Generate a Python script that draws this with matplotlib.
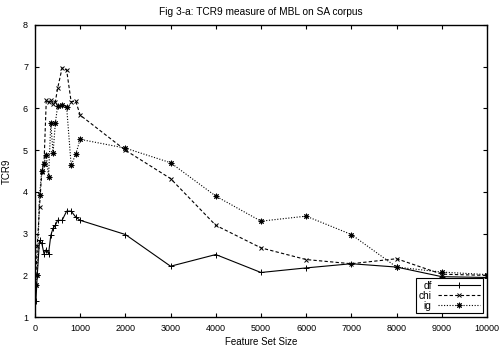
import matplotlib
matplotlib.use('Agg')
import matplotlib.pyplot as plt

plt.rcParams['font.family'] = ['Liberation Sans', 'DejaVu Sans']
plt.rcParams['font.size'] = 6.5

sizes = [20, 50, 100, 150, 200, 250, 300, 350, 400, 450, 500, 600, 700, 800, 900,
         1000, 2000, 3000, 4000, 5000, 6000, 7000, 8000, 9000, 10000]

df = [1.38, 2.0, 2.84, 2.77, 2.52, 2.62, 2.52, 2.96, 3.13, 3.2, 3.32, 3.32, 3.54, 3.54, 3.40,
      3.32, 2.98, 2.22, 2.50, 2.07, 2.18, 2.28, 2.20, 1.97, 1.95]
chi = [2.0, 2.7, 3.64, 4.48, 4.7, 6.2, 6.15, 6.2, 6.1, 6.16, 6.48, 6.97, 6.92, 6.16, 6.18,
       5.84, 5.0, 4.32, 3.2, 2.66, 2.38, 2.28, 2.4, 2.03, 2.0]
ig = [1.76, 2.0, 3.92, 4.5, 4.68, 4.88, 4.36, 5.65, 4.93, 5.65, 6.05, 6.08, 6.04, 4.64, 4.9,
      5.26, 5.05, 4.7, 3.9, 3.3, 3.42, 2.98, 2.2, 2.08, 2.02]

xticks = list(range(0, 10001, 1000))
yticks = list(range(1, 9))

fig = plt.figure(figsize=(5.02, 3.52), dpi=100)
ax = fig.add_axes([0.0697, 0.099, 0.9003, 0.83])

ax.plot(sizes, df, color='black', lw=0.8, ls='-', marker='+', ms=4, mew=0.7, label='df')
ax.plot(sizes, chi, color='black', lw=0.8, ls=(0, (3, 2)), marker='x', ms=3, mew=0.7, label='chi')
ax.plot(sizes, ig, color='black', lw=0.8, ls=(0, (1, 1.5)), marker=(8, 2, 0), ms=4, mew=0.7, label='ig')

ax.set_xlim(0, 10000)
ax.set_ylim(1, 8)
ax.set_xticks(xticks)
ax.set_yticks(yticks)
ax.tick_params(direction='in', top=True, right=True, length=3, width=0.8, pad=5)
for s in ax.spines.values():
    s.set_linewidth(1.0)

ax.set_title('Fig 3-a: TCR9 measure of MBL on SA corpus', fontsize=7.3, pad=7)
ax.set_xlabel('Feature Set Size', fontsize=7, labelpad=3)
ax.set_ylabel('TCR9', fontsize=7, labelpad=8)

leg = ax.legend(loc='lower right', markerfirst=False, fancybox=False, framealpha=1,
                edgecolor='black', handlelength=4.2, handletextpad=0.6, borderpad=0.25,
                labelspacing=0.0, borderaxespad=0.4, fontsize=7.3)
leg.get_frame().set_linewidth(0.8)

fig.savefig('out.png', dpi=100)
